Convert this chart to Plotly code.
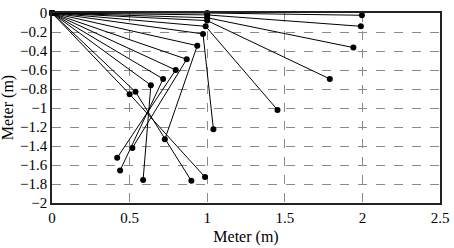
import plotly.graph_objects as go

# elbow (first link end) positions
elbow_x = [1.0, 1.0, 1.0, 1.0, 0.99, 0.973, 0.936, 0.868, 0.797, 0.716, 0.637, 0.538, 0.50]
elbow_y = [0.0, -0.02, -0.05, -0.08, -0.14, -0.22, -0.344, -0.487, -0.60, -0.694, -0.76, -0.83, -0.854]
# tip (second link end) positions
tip_x = [1.997, 1.99, 1.942, 1.79, 1.453, 1.04, 0.727, 0.518, 0.42, 0.439, 0.587, 0.898, 0.986]
tip_y = [-0.024, -0.14, -0.364, -0.694, -1.02, -1.224, -1.33, -1.42, -1.524, -1.657, -1.757, -1.767, -1.727]

base_x, base_y = 0.0, 0.0

xs, ys = [], []
for ex, ey, tx, ty in zip(elbow_x, elbow_y, tip_x, tip_y):
    xs += [base_x, ex, tx, None]
    ys += [base_y, ey, ty, None]

fig = go.Figure()
fig.add_trace(go.Scatter(
    x=xs, y=ys, mode="lines+markers",
    line=dict(color="black", width=1),
    marker=dict(color="black", size=6),
    cliponaxis=False, showlegend=False, hoverinfo="skip"))

font = dict(family="Liberation Serif", size=15, color="black")
tfont = dict(family="Liberation Serif", size=16, color="black")
axis_common = dict(
    showline=True, linecolor="#222", linewidth=1.5, mirror=True,
    showgrid=True, gridcolor="#8a8a8a", griddash="dash", gridwidth=1,
    zeroline=False, ticks="", tickfont=font, ticklabeloverflow="allow",
)
fig.update_layout(
    width=454, height=248,
    margin=dict(l=52, r=13, t=5, b=43),
    paper_bgcolor="white", plot_bgcolor="white",
    font=font,
    xaxis=dict(range=[0, 2.5], tick0=0, dtick=0.5,
               title=dict(text="Meter (m)", font=tfont, standoff=6), **axis_common),
    yaxis=dict(range=[-2, 0], tick0=0, dtick=0.2, **axis_common),
    annotations=[dict(text="Meter (m)", xref="paper", yref="paper", x=-0.113, y=0.5,
                      xanchor="center", yanchor="middle", textangle=-90, showarrow=False, font=tfont)],
)
fig.write_html("out.html")
